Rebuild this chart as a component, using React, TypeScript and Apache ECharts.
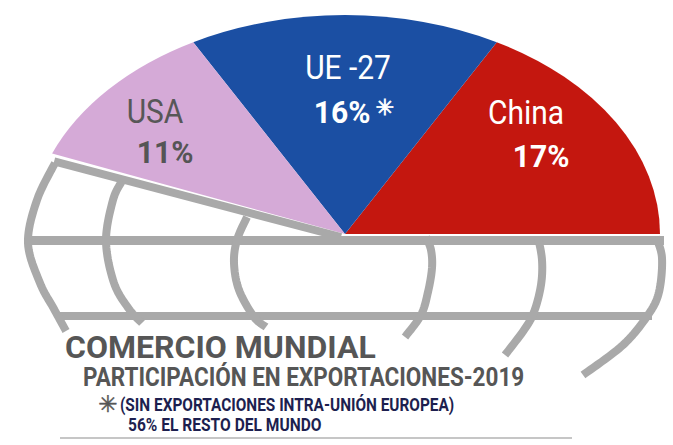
import React, { useEffect, useRef } from 'react';
import * as echarts from 'echarts';

// ---- data ----
const categories = ['China', 'UE -27', 'USA', 'Resto del mundo'];
const shares = [17, 16, 11, 56];
const footnoteMarks = ['', '✳', '', ''];
const titleText = 'COMERCIO MUNDIAL';
const subtitleText = 'PARTICIPACIÓN EN EXPORTACIONES-2019';
const noteText = '(SIN EXPORTACIONES INTRA-UNIÓN EUROPEA)';
const restText = `${shares[3]}% EL RESTO DEL MUNDO`;

// ---- styles / layout ----
const sliceColors = ['#c4170f', '#1b4fa3', '#d5aad7', 'rgba(0,0,0,0)'];
const nameColors = ['#ffffff', '#ffffff', '#575757', '#575757'];
const valueColors = ['#ffffff', '#ffffff', '#555555', '#555555'];
const CX = 345;
const CY = 234;
const RX = 315;
const RY = 219;
const GRAY = '#a9a9a9';
const NAVY = '#1d1f4f';
const TEXT_GRAY = '#565656';
// label centres: [nameX, nameY, valueX, valueY]
const labelPos = [
  [526, 112, 541, 156],
  [348, 67, 342, 112],
  [155, 111, 165, 152],
  [0, 0, 0, 0],
];

// decorative globe meridians (outline drawing, not data)
const globeArcs: number[][][] = [
  [[55, 163], [37, 200], [28, 243], [40, 283], [54, 309], [66, 331]],
  [[122, 181], [113, 200], [106, 241], [114, 283], [129, 309], [142, 323]],
  [[247, 217], [237, 240], [234, 263], [239, 290], [254, 317], [266, 327]],
  [[426, 237], [431, 250], [432, 268], [428, 292], [421, 315], [405, 337]],
  [[538, 237], [542, 260], [541, 285], [534, 312], [524, 330], [505, 355]],
  [[656, 237], [662, 258], [659, 292], [648, 315], [623, 345], [583, 375]],
];

// centripetal-ish Catmull-Rom sampling for a smooth outline through the points
function spline(pts: number[][], steps = 12): number[][] {
  const out: number[][] = [];
  for (let i = 0; i < pts.length - 1; i++) {
    const p0 = pts[Math.max(0, i - 1)];
    const p1 = pts[i];
    const p2 = pts[i + 1];
    const p3 = pts[Math.min(pts.length - 1, i + 2)];
    for (let s = 0; s < steps; s++) {
      const t = s / steps;
      const t2 = t * t;
      const t3 = t2 * t;
      const f = (a: number, b: number, c: number, d: number) =>
        0.5 * (2 * b + (-a + c) * t + (2 * a - 5 * b + 4 * c - d) * t2 + (-a + 3 * b - 3 * c + d) * t3);
      out.push([f(p0[0], p1[0], p2[0], p3[0]), f(p0[1], p1[1], p2[1], p3[1])]);
    }
  }
  out.push(pts[pts.length - 1]);
  return out;
}

export default function App() {
  const ref = useRef<HTMLDivElement>(null);
  useEffect(() => {
    if (!ref.current) return;
    const chart = echarts.init(ref.current, undefined, { renderer: 'svg' });
    const total = shares.reduce((a, b) => a + b, 0);

    const renderItem = (params: any, api: any) => {
      const i = params.dataIndex;
      let cum = 0;
      for (let k = 0; k < i; k++) cum += shares[k];
      const v = api.value(0);
      const a0 = (cum / total) * Math.PI * 2;
      const a1 = ((cum + v) / total) * Math.PI * 2;
      if (i === shares.length - 1) {
        // boundary between the last pie slice and the rest of the world
        return {
          type: 'line',
          shape: { x1: CX - 4, y1: CY + 3, x2: CX + RX * Math.cos(a0) + 2, y2: CY - RY * Math.sin(a0) + 8 },
          style: { stroke: GRAY, lineWidth: 8, lineCap: 'butt' },
          z2: 20,
        };
      }
      const p = labelPos[i];
      const children: any[] = [
        {
          type: 'sector',
          x: CX,
          y: CY,
          scaleY: RY / RX,
          shape: { cx: 0, cy: 0, r0: 0, r: RX, startAngle: -a1, endAngle: -a0, clockwise: true },
          style: { fill: sliceColors[i] },
          z2: 1,
        },
        {
          type: 'text',
          x: p[0],
          y: p[1],
          scaleX: 0.88,
          style: {
            text: categories[i],
            fill: nameColors[i],
            font: '34px Roboto',
            align: 'center',
            verticalAlign: 'middle',
            textAlign: 'center',
            textVerticalAlign: 'middle',
          },
          z2: 5,
        },
        {
          type: 'text',
          x: p[2],
          y: p[3],
          scaleX: 0.94,
          style: {
            text: `${v}%`,
            fill: valueColors[i],
            font: 'bold 32px Roboto',
            align: 'center',
            verticalAlign: 'middle',
            textAlign: 'center',
            textVerticalAlign: 'middle',
          },
          z2: 5,
        },
      ];
      if (footnoteMarks[i]) {
        children.push({
          type: 'text',
          x: p[2] + 43,
          y: p[3] - 5,
          style: {
            text: footnoteMarks[i],
            fill: valueColors[i],
            stroke: valueColors[i],
            lineWidth: 0.8,
            font: '22px "DejaVu Sans"',
            align: 'center',
            verticalAlign: 'middle',
            textAlign: 'center',
            textVerticalAlign: 'middle',
          },
          z2: 5,
        });
      }
      return { type: 'group', children };
    };

    const graphics: any[] = [
      {
        type: 'line',
        z: 100,
        shape: { x1: 26, y1: 240.5, x2: 664, y2: 240.5 },
        style: { stroke: GRAY, lineWidth: 9 },
      },
      {
        type: 'line',
        z: 100,
        shape: { x1: 56, y1: 316, x2: 652, y2: 316 },
        style: { stroke: GRAY, lineWidth: 8 },
      },
      ...globeArcs.map((pts) => ({
        type: 'polyline',
        z: 100,
        shape: { points: spline(pts) },
        style: { stroke: GRAY, lineWidth: 8, fill: null, lineCap: 'butt', lineJoin: 'round' },
      })),
      {
        type: 'text',
        z: 100,
        x: 65,
        y: 347,
        scaleX: 1.0,
        style: { text: titleText, fill: TEXT_GRAY, font: 'bold 32px Roboto', align: 'left', verticalAlign: 'middle', textAlign: 'left', textVerticalAlign: 'middle' },
      },
      {
        type: 'text',
        z: 100,
        x: 83,
        y: 378,
        scaleX: 0.9,
        style: { text: subtitleText, fill: TEXT_GRAY, font: 'bold 25px Roboto', align: 'left', verticalAlign: 'middle', textAlign: 'left', textVerticalAlign: 'middle' },
      },
      {
        type: 'text',
        z: 100,
        x: 108,
        y: 404,
        style: { text: '✳', fill: TEXT_GRAY, stroke: TEXT_GRAY, lineWidth: 0.5, font: '23px "DejaVu Sans"', align: 'center', verticalAlign: 'middle', textAlign: 'center', textVerticalAlign: 'middle' },
      },
      {
        type: 'text',
        z: 100,
        x: 120,
        y: 404.5,
        scaleX: 0.81,
        style: { text: noteText, fill: NAVY, font: 'bold 19px Roboto', align: 'left', verticalAlign: 'middle', textAlign: 'left', textVerticalAlign: 'middle' },
      },
      {
        type: 'text',
        z: 100,
        x: 128,
        y: 424.5,
        scaleX: 0.82,
        style: { text: restText, fill: NAVY, font: 'bold 19px Roboto', align: 'left', verticalAlign: 'middle', textAlign: 'left', textVerticalAlign: 'middle' },
      },
      {
        type: 'line',
        z: 100,
        shape: { x1: 60, y1: 438, x2: 572, y2: 438 },
        style: { stroke: '#b3b3b3', lineWidth: 1.5 },
      },
    ];

    chart.setOption({
      animation: false,
      backgroundColor: '#ffffff',
      graphic: graphics,
      series: [
        {
          type: 'custom',
          coordinateSystem: 'none',
          z: 2,
          data: shares.map((v, i) => ({ value: [v], name: categories[i] })),
          renderItem,
        },
      ],
    });
    return () => chart.dispose();
  }, []);
  return (
    <div
      ref={ref}
      style={{ position: 'fixed', left: 0, top: 0, width: 673, height: 445, background: '#fff' }}
    />
  );
}
